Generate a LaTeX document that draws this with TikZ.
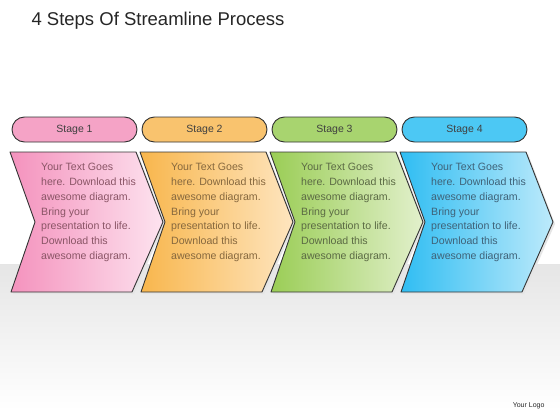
\documentclass[tikz,border=0pt]{standalone}
\usepackage{fontspec}
\setmainfont{Liberation Sans}
\begin{document}
\begin{tikzpicture}[x=1pt,y=-1pt,
  pill/.style={draw=black!80, line width=0.9pt, rounded corners=12.5pt},
  chev/.style={draw=black!80, line width=0.9pt, line join=round},
  bodytext/.style={anchor=north west, align=left, font=\fontsize{10.6}{14.8}\selectfont, inner sep=0pt},
  stagetext/.style={font=\fontsize{10.5}{12}\selectfont, text=black!75},
  ]
\definecolor{pinkD}{HTML}{F492BD}\definecolor{pinkL}{HTML}{FDE3EF}\definecolor{pinkP}{HTML}{F5A3C6}\definecolor{pinkT}{HTML}{8A5566}
\definecolor{oranD}{HTML}{F8B64C}\definecolor{oranL}{HTML}{FEE5BF}\definecolor{oranP}{HTML}{F9C36E}\definecolor{oranT}{HTML}{86683E}
\definecolor{greeD}{HTML}{9ACD55}\definecolor{greeL}{HTML}{E2F0CC}\definecolor{greeP}{HTML}{A8D46F}\definecolor{greeT}{HTML}{5B6A44}
\definecolor{bluD}{HTML}{2FBDF2}\definecolor{bluL}{HTML}{BDEAFB}\definecolor{bluP}{HTML}{4CC8F4}\definecolor{bluT}{HTML}{3F6278}
\useasboundingbox (0,0) rectangle (560,420);
\fill[white] (0,0) rectangle (560,264);
\shade[top color=black!10, bottom color=white] (0,264) rectangle (560,410);
\fill[white] (0,410) rectangle (560,420);
\node[anchor=west, font=\fontsize{18.5}{22}\selectfont, text=black!85] (title) at (28,21) {4 Steps Of Streamline Process};
\node[anchor=east, font=\fontsize{7}{8}\selectfont, text=black!85] (logo) at (548,406) {Your Logo};
\foreach \i/\c in {0/pink,1/oran,2/gree,3/blu}{
  \pgfmathsetmacro{\ox}{130*\i}
  \begin{scope}[xshift=\ox pt]
    \fill[black!10] (12,154) -- (138,154) -- (165,224) -- (134,294) -- (13,294) -- (37,224) -- cycle;
    \path[chev, left color=\c D, right color=\c L]
      (10,152) -- (136,152) -- (163,222) -- (132,292) -- (11,292) -- (35,222) -- cycle;
    \path[pill, fill=\c P] (12,117) rectangle (137,142);
    \pgfmathtruncatemacro{\n}{\i+1}
    \node[stagetext] (s\n) at (74.5,129.5) {Stage \n};
    \node[bodytext, text=\c T] (t\n) at (41,163) {Your Text Goes\\here. Download this\\awesome diagram.\\Bring your\\presentation to life.\\Download this\\awesome diagram.};
  \end{scope}
}
\end{tikzpicture}
\end{document}
